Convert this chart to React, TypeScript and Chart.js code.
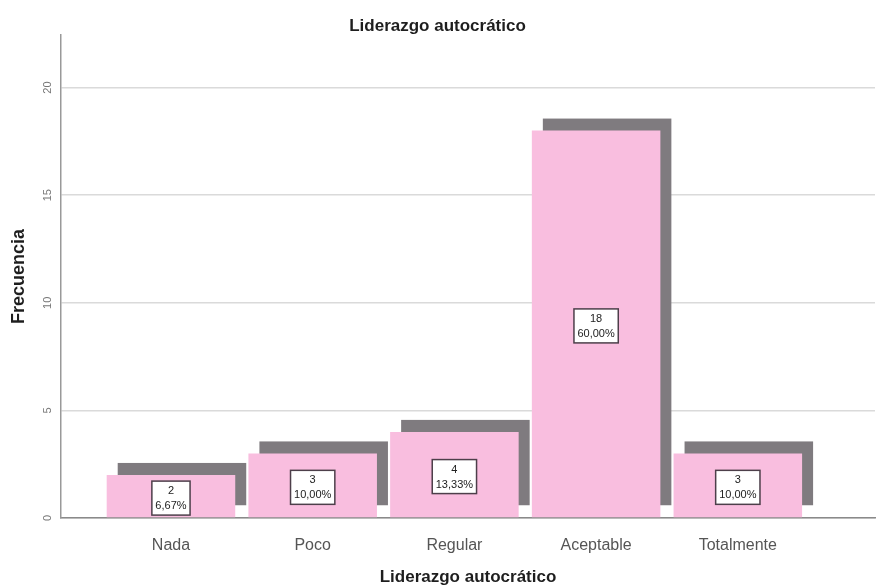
import React, { useEffect, useRef } from 'react';
import { Chart, registerables } from 'chart.js';

Chart.register(...registerables);

const categories = ['Nada', 'Poco', 'Regular', 'Aceptable', 'Totalmente'];
const frequencies = [2, 3, 4, 18, 3];
const percentLabels = ['6,67%', '10,00%', '13,33%', '60,00%', '10,00%'];
const yTicks = [0, 5, 10, 15, 20];
const chartTitle = 'Liderazgo autocrático';
const xTitle = 'Liderazgo autocrático';
const yTitle = 'Frecuencia';

const FONT = "'Liberation Sans', Arial, sans-serif";
const PINK = '#F9BEDF';
const SHADOW = '#7F7B7F';

const shadowPlugin = {
  id: 'shadow3d',
  beforeDatasetsDraw(chart: any) {
    const meta = chart.getDatasetMeta(0);
    const ctx = chart.ctx;
    ctx.save();
    ctx.fillStyle = SHADOW;
    meta.data.forEach((bar: any) => {
      const { x, y, base, width } = bar.getProps(['x', 'y', 'base', 'width'], true);
      ctx.fillRect(x - width / 2 + 11, y - 12, width, base - y);
    });
    ctx.restore();
  },
};

const boxLabelPlugin = {
  id: 'boxLabels',
  afterDatasetsDraw(chart: any) {
    const meta = chart.getDatasetMeta(0);
    const ctx = chart.ctx;
    ctx.save();
    ctx.font = `11px ${FONT}`;
    ctx.textAlign = 'center';
    ctx.textBaseline = 'middle';
    meta.data.forEach((bar: any, i: number) => {
      const { x, y, base } = bar.getProps(['x', 'y', 'base'], true);
      const v = String(frequencies[i]);
      const p = percentLabels[i];
      const w = Math.max(ctx.measureText(v).width, ctx.measureText(p).width) + 7;
      const h = 34;
      const cy = (y + base) / 2 + 2;
      ctx.fillStyle = '#ffffff';
      ctx.fillRect(x - w / 2, cy - h / 2, w, h);
      ctx.strokeStyle = '#4d3f4a';
      ctx.lineWidth = 1.5;
      ctx.strokeRect(x - w / 2, cy - h / 2, w, h);
      ctx.fillStyle = '#222222';
      ctx.fillText(v, x, cy - 7);
      ctx.fillText(p, x, cy + 8);
    });
    ctx.restore();
  },
};

const rotatedYTicksPlugin = {
  id: 'rotatedYTicks',
  afterDraw(chart: any) {
    const scale = chart.scales.y;
    const ctx = chart.ctx;
    ctx.save();
    ctx.font = `11px ${FONT}`;
    ctx.fillStyle = '#777777';
    ctx.textAlign = 'center';
    ctx.textBaseline = 'middle';
    scale.ticks.forEach((t: any) => {
      const py = scale.getPixelForValue(t.value);
      ctx.save();
      ctx.translate(48, py);
      ctx.rotate(-Math.PI / 2);
      ctx.fillText(String(t.value), 0, 0);
      ctx.restore();
    });
    ctx.restore();
  },
};

export default function App() {
  const canvasRef = useRef<HTMLCanvasElement | null>(null);

  useEffect(() => {
    if (!canvasRef.current) return;
    Chart.defaults.font.family = FONT;
    const chart = new Chart(canvasRef.current, {
      type: 'bar',
      data: {
        datasets: [
          {
            label: yTitle,
            data: frequencies.map((v, i) => ({ x: i, y: v })),
            backgroundColor: PINK,
            borderWidth: 0,
            barPercentage: 1,
            categoryPercentage: 0.907,
          },
        ],
      },
      options: {
        responsive: false,
        animation: false,
        layout: { padding: { left: 0, right: 1, top: 0, bottom: 0 } },
        plugins: {
          legend: { display: false },
          tooltip: { enabled: false },
          title: {
            display: true,
            text: chartTitle,
            color: '#1e1e1e',
            font: { size: 17, weight: 'bold', family: FONT, lineHeight: 1 },
            padding: { top: 18, bottom: 0 },
          },
        },
        scales: {
          x: {
            type: 'linear',
            offset: false,
            min: -0.776,
            max: 4.968,
            afterBuildTicks: (s: any) => {
              s.ticks = categories.map((_, i) => ({ value: i }));
            },
            afterFit: (s: any) => {
              s.height = 69;
            },
            ticks: {
              autoSkip: false,
              maxRotation: 0,
              minRotation: 0,
              padding: 10,
              color: '#555555',
              font: { size: 16, family: FONT },
              callback: (v: any) => categories[v] ?? '',
            },
            grid: { display: false, offset: false },
            border: { display: true, color: '#8a8a8a', width: 1.5 },
            title: {
              display: true,
              text: xTitle,
              color: '#1e1e1e',
              font: { size: 17, weight: 'bold', family: FONT, lineHeight: 1 },
              padding: { top: 0, bottom: 1 },
            },
          },
          y: {
            min: 0,
            max: 22.44,
            afterBuildTicks: (s: any) => {
              s.ticks = yTicks.map((v) => ({ value: v }));
            },
            afterFit: (s: any) => {
              s.width = 61;
            },
            ticks: { display: false },
            grid: { color: '#dadada', lineWidth: 1.5, drawTicks: false },
            border: { display: true, color: '#999999', width: 1.5 },
            title: {
              display: true,
              text: yTitle,
              color: '#1e1e1e',
              font: { size: 18, weight: 'bold', family: FONT },
              padding: { top: 8, bottom: 0 },
            },
          },
        },
      } as any,
      plugins: [shadowPlugin, boxLabelPlugin, rotatedYTicksPlugin],
    });
    return () => chart.destroy();
  }, []);

  return (
    <div style={{ position: 'fixed', left: 0, top: 0, width: 876, height: 587, background: '#ffffff' }}>
      <canvas ref={canvasRef} width={876} height={587} style={{ width: 876, height: 587 }} />
    </div>
  );
}
